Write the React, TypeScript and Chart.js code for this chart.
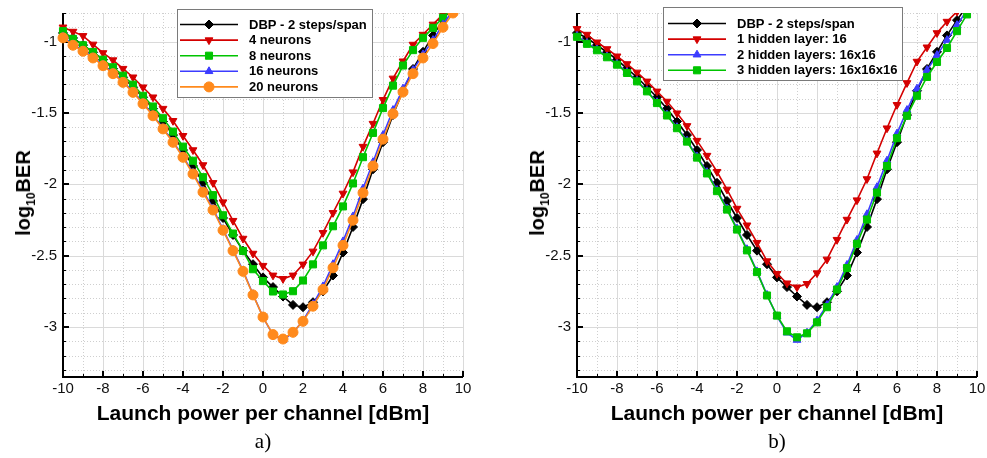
import React, { useEffect, useRef } from 'react';
import { Chart, registerables } from 'chart.js';
import { drawPoint } from 'chart.js/helpers';

Chart.register(...registerables);

// ---------------- data ----------------
const X = [
  -10, -9.5, -9, -8.5, -8, -7.5, -7, -6.5, -6, -5.5, -5, -4.5, -4, -3.5, -3, -2.5, -2, -1.5, -1, -0.5,
  0, 0.5, 1, 1.5, 2, 2.5, 3, 3.5, 4, 4.5, 5, 5.5, 6, 6.5, 7, 7.5, 8, 8.5, 9, 9.5,
];

const DBP = [
  -0.94, -0.975, -1.025, -1.075, -1.127, -1.19, -1.25, -1.32, -1.39, -1.47, -1.56, -1.655, -1.76, -1.872, -1.99, -2.117, -2.236, -2.355, -2.465, -2.56,
  -2.652, -2.72, -2.786, -2.845, -2.861, -2.826, -2.75, -2.639, -2.478, -2.299, -2.104, -1.895, -1.705, -1.515, -1.345, -1.192, -1.072, -0.957, -0.85, -0.75,
];

const NN4 = [
  -0.9, -0.93, -0.96, -1.02, -1.08, -1.13, -1.19, -1.25, -1.32, -1.39, -1.47, -1.555, -1.66, -1.76, -1.865, -1.99, -2.125, -2.255, -2.38, -2.485,
  -2.57, -2.638, -2.662, -2.638, -2.561, -2.47, -2.34, -2.2, -2.064, -1.915, -1.736, -1.575, -1.408, -1.258, -1.138, -1.021, -0.951, -0.88, -0.81, -0.74,
];

const NN8 = [
  -0.927, -0.981, -1.026, -1.073, -1.127, -1.18, -1.239, -1.302, -1.38, -1.455, -1.537, -1.631, -1.736, -1.835, -1.95, -2.076, -2.217, -2.345, -2.467, -2.595,
  -2.678, -2.751, -2.772, -2.749, -2.674, -2.561, -2.428, -2.294, -2.155, -1.994, -1.81, -1.64, -1.466, -1.309, -1.168, -1.06, -0.974, -0.904, -0.833, -0.76,
];

const NN16 = [
  -0.965, -1.02, -1.062, -1.11, -1.163, -1.22, -1.28, -1.35, -1.43, -1.515, -1.607, -1.7, -1.805, -1.92, -2.045, -2.17, -2.315, -2.46, -2.605, -2.77,
  -2.93, -3.055, -3.092, -3.04, -2.955, -2.84, -2.715, -2.56, -2.4, -2.225, -2.03, -1.845, -1.655, -1.48, -1.33, -1.2, -1.09, -0.99, -0.88, -0.78,
];

const NN20 = [
  -0.974, -1.026, -1.068, -1.115, -1.169, -1.225, -1.286, -1.356, -1.436, -1.52, -1.612, -1.706, -1.811, -1.928, -2.055, -2.18, -2.322, -2.465, -2.61, -2.775,
  -2.93, -3.053, -3.084, -3.037, -2.96, -2.854, -2.737, -2.585, -2.428, -2.252, -2.06, -1.872, -1.684, -1.506, -1.354, -1.225, -1.115, -1.014, -0.9, -0.8,
];

const HL1 = [
  -0.911, -0.951, -1.005, -1.052, -1.103, -1.157, -1.216, -1.279, -1.349, -1.42, -1.502, -1.591, -1.694, -1.799, -1.912, -2.036, -2.17, -2.287, -2.409, -2.538,
  -2.627, -2.693, -2.721, -2.697, -2.622, -2.526, -2.388, -2.247, -2.111, -1.963, -1.783, -1.607, -1.443, -1.29, -1.14, -1.04, -0.94, -0.86, -0.79, -0.72,
];

const HL2 = [
  -0.96, -1.01, -1.055, -1.105, -1.157, -1.215, -1.275, -1.345, -1.425, -1.512, -1.6, -1.695, -1.805, -1.915, -2.04, -2.17, -2.31, -2.455, -2.61, -2.775,
  -2.925, -3.04, -3.091, -3.04, -2.955, -2.845, -2.72, -2.565, -2.39, -2.21, -2.02, -1.835, -1.645, -1.48, -1.33, -1.2, -1.095, -0.99, -0.885, -0.78,
];

const HL3 = [
  -0.967, -1.016, -1.061, -1.11, -1.162, -1.22, -1.279, -1.349, -1.431, -1.518, -1.607, -1.701, -1.813, -1.924, -2.048, -2.177, -2.317, -2.463, -2.615, -2.779,
  -2.92, -3.03, -3.072, -3.044, -2.967, -2.861, -2.737, -2.587, -2.416, -2.247, -2.058, -1.872, -1.677, -1.52, -1.38, -1.248, -1.143, -1.045, -0.927, -0.81,
];

const X_TICKS = [-10, -8, -6, -4, -2, 0, 2, 4, 6, 8, 10];
const Y_TICKS = [-3, -2.5, -2, -1.5, -1];
const X_MIN = -10;
const X_MAX = 10;
const Y_MIN = -3.35;
const Y_MAX = -0.8;

const LEFT_LABELS = ['DBP - 2 steps/span', '4 neurons', '8 neurons', '16 neurons', '20 neurons'];
const RIGHT_LABELS = ['DBP - 2 steps/span', '1 hidden layer: 16', '2 hidden layers: 16x16', '3 hidden layers: 16x16x16'];

// ---------------- styles ----------------
const C_BLACK = '#000000';
const C_RED = '#d40000';
const C_GREEN = '#00c400';
const C_BLUE = '#3c3cff';
const C_ORANGE = '#ff8a1c';

const SANS = "'Liberation Sans', Arial, Helvetica, sans-serif";

type Series = {
  label: string;
  data: number[];
  color: string;
  style: string;
  radius: number;
  rotation: number;
};

const leftSeries: Series[] = [
  { label: LEFT_LABELS[0], data: DBP, color: C_BLACK, style: 'rectRot', radius: 4.5, rotation: 0 },
  { label: LEFT_LABELS[1], data: NN4, color: C_RED, style: 'triangle', radius: 4.5, rotation: 180 },
  { label: LEFT_LABELS[2], data: NN8, color: C_GREEN, style: 'rect', radius: 5, rotation: 0 },
  { label: LEFT_LABELS[3], data: NN16, color: C_BLUE, style: 'triangle', radius: 4.5, rotation: 0 },
  { label: LEFT_LABELS[4], data: NN20, color: C_ORANGE, style: 'circle', radius: 5, rotation: 0 },
];

const rightSeries: Series[] = [
  { label: RIGHT_LABELS[0], data: DBP, color: C_BLACK, style: 'rectRot', radius: 4.5, rotation: 0 },
  { label: RIGHT_LABELS[1], data: HL1, color: C_RED, style: 'triangle', radius: 4.5, rotation: 180 },
  { label: RIGHT_LABELS[2], data: HL2, color: C_BLUE, style: 'triangle', radius: 4.5, rotation: 0 },
  { label: RIGHT_LABELS[3], data: HL3, color: C_GREEN, style: 'rect', radius: 5, rotation: 0 },
];

type LegendBox = { x: number; y: number; w: number; h: number; lx1: number; lx2: number; tx: number; ry: number; dy: number };

const LEFT_LEGEND: LegendBox = { x: 177, y: 9, w: 195, h: 88, lx1: 180, lx2: 238, tx: 249, ry: 24.5, dy: 15.6 };
const RIGHT_LEGEND: LegendBox = { x: 149, y: 7, w: 239, h: 73, lx1: 154, lx2: 212, tx: 223, ry: 23.5, dy: 15.6 };

const framePlugin = {
  id: 'frame',
  beforeDatasetsDraw(chart: any) {
    const { ctx, chartArea: a, scales } = chart;
    const xs = scales.x;
    const ys = scales.y;
    const px = (v: number) => Math.round(xs.getPixelForValue(v)) + 0.5;
    const py = (v: number) => Math.round(ys.getPixelForValue(v)) + 0.5;
    const seg = (x1: number, y1: number, x2: number, y2: number) => {
      ctx.beginPath();
      ctx.moveTo(x1, y1);
      ctx.lineTo(x2, y2);
      ctx.stroke();
    };
    const xMinor: number[] = [];
    for (let v = -9; v <= 9; v += 2) xMinor.push(v);
    const yMinor: number[] = [];
    for (let k = -33; k <= -8; k++) if (k % 5 !== 0) yMinor.push(k / 10);

    ctx.save();
    // minor grid (dotted)
    ctx.lineWidth = 1;
    ctx.strokeStyle = '#cfcfcf';
    ctx.setLineDash([1, 2]);
    xMinor.forEach((v) => seg(px(v), a.top, px(v), a.bottom));
    yMinor.forEach((v) => seg(a.left, py(v), a.right, py(v)));
    // major grid
    ctx.setLineDash([]);
    ctx.strokeStyle = '#dadada';
    X_TICKS.filter((v) => v !== X_MIN).forEach((v) => seg(px(v), a.top, px(v), a.bottom));
    Y_TICKS.forEach((v) => seg(a.left, py(v), a.right, py(v)));
    // inner ticks
    ctx.strokeStyle = '#000';
    ctx.lineWidth = 1;
    xMinor.forEach((v) => seg(px(v), a.bottom, px(v), a.bottom - 3));
    yMinor.forEach((v) => seg(a.left, py(v), a.left + 3, py(v)));
    ctx.lineWidth = 2;
    X_TICKS.filter((v) => v !== X_MIN).forEach((v) => seg(Math.round(xs.getPixelForValue(v)), a.bottom, Math.round(xs.getPixelForValue(v)), a.bottom - 6));
    Y_TICKS.forEach((v) => seg(a.left, Math.round(ys.getPixelForValue(v)), a.left + 6, Math.round(ys.getPixelForValue(v))));
    // axis lines
    ctx.lineWidth = 2;
    seg(Math.round(a.left), a.top, Math.round(a.left), Math.round(a.bottom) + 1);
    seg(Math.round(a.left) - 1, Math.round(a.bottom), a.right, Math.round(a.bottom));
    ctx.restore();
  },
};

function makeLegendPlugin(series: Series[], box: LegendBox) {
  return {
    id: 'boxLegend',
    afterDraw(chart: any) {
      const { ctx } = chart;
      ctx.save();
      ctx.fillStyle = '#ffffff';
      ctx.fillRect(box.x, box.y, box.w, box.h);
      ctx.strokeStyle = '#7a7a7a';
      ctx.lineWidth = 1;
      ctx.strokeRect(box.x + 0.5, box.y + 0.5, box.w, box.h);
      series.forEach((s, i) => {
        const y = box.ry + i * box.dy;
        ctx.strokeStyle = s.color;
        ctx.fillStyle = s.color;
        ctx.lineWidth = 1.6;
        ctx.beginPath();
        ctx.moveTo(box.lx1, y);
        ctx.lineTo(box.lx2, y);
        ctx.stroke();
        ctx.lineWidth = 1;
        drawPoint(ctx, { pointStyle: s.style as any, radius: s.radius, rotation: s.rotation, borderWidth: 1 }, (box.lx1 + box.lx2) / 2, y);
        ctx.fillStyle = '#000';
        ctx.font = `bold 13px ${SANS}`;
        ctx.textBaseline = 'middle';
        ctx.textAlign = 'left';
        ctx.fillText(s.label, box.tx, y + 0.5);
      });
      ctx.restore();
    },
  };
}

function makeConfig(series: Series[], box: LegendBox): any {
  const n = series.length;
  return {
    type: 'line',
    data: {
      datasets: series.map((s, i) => ({
        label: s.label,
        data: X.map((x, j) => ({ x, y: s.data[j] })),
        borderColor: s.color,
        backgroundColor: s.color,
        pointBackgroundColor: s.color,
        pointBorderColor: s.color,
        pointStyle: s.style,
        pointRadius: s.radius,
        pointRotation: s.rotation,
        pointBorderWidth: 1,
        borderWidth: 1.6,
        tension: 0,
        clip: { left: 10, top: 0, right: 0, bottom: 0 },
        order: n - 1 - i,
      })),
    },
    options: {
      responsive: false,
      animation: false,
      devicePixelRatio: 1,
      events: [],
      layout: { padding: { left: 0, top: 13, right: 10, bottom: 56 } },
      plugins: { legend: { display: false }, tooltip: { enabled: false }, title: { display: false } },
      scales: {
        x: {
          type: 'linear',
          min: X_MIN,
          max: X_MAX,
          afterBuildTicks: (s: any) => {
            s.ticks = X_TICKS.map((v) => ({ value: v }));
          },
          afterFit: (s: any) => {
            s.height = 25;
            s.paddingLeft = 0;
            s.paddingRight = 0;
          },
          grid: { display: false, drawTicks: false },
          border: { display: false },
          ticks: {
            autoSkip: false,
            maxRotation: 0,
            minRotation: 0,
            padding: 3,
            color: '#111',
            font: { family: SANS, size: 15 },
            callback: (v: any) => String(v),
          },
        },
        y: {
          type: 'linear',
          min: Y_MIN,
          max: Y_MAX,
          afterBuildTicks: (s: any) => {
            s.ticks = Y_TICKS.map((v) => ({ value: v }));
          },
          afterFit: (s: any) => {
            s.width = 63;
            s.paddingTop = 0;
            s.paddingBottom = 0;
          },
          grid: { display: false, drawTicks: false },
          border: { display: false },
          ticks: {
            autoSkip: false,
            padding: 6,
            color: '#111',
            font: { family: SANS, size: 15 },
            callback: (v: any) => String(v),
          },
        },
      },
    },
    plugins: [framePlugin, makeLegendPlugin(series, box)],
  };
}

function Panel({ left, series, box, tag }: { left: number; series: Series[]; box: LegendBox; tag: string }) {
  const ref = useRef<HTMLCanvasElement | null>(null);
  useEffect(() => {
    if (!ref.current) return;
    const chart = new Chart(ref.current, makeConfig(series, box));
    return () => chart.destroy();
  }, []);
  return (
    <>
      <canvas
        ref={ref}
        width={473}
        height={458}
        style={{ position: 'absolute', left, top: 0, width: 473, height: 458, display: 'block' }}
      />
      <div
        style={{
          position: 'absolute',
          left: left + 23,
          top: 193,
          transform: 'translate(-50%, -50%) rotate(-90deg)',
          fontFamily: SANS,
          fontWeight: 'bold',
          fontSize: 20,
          lineHeight: '24px',
          whiteSpace: 'nowrap',
          color: '#000',
        }}
      >
        log<sub style={{ fontSize: 12, verticalAlign: '-5px', lineHeight: 0 }}>10</sub>BER
      </div>
      <div
        style={{
          position: 'absolute',
          left: left + 63,
          top: 402,
          width: 400,
          textAlign: 'center',
          fontFamily: SANS,
          fontWeight: 'bold',
          fontSize: 21,
          lineHeight: '21px',
          whiteSpace: 'nowrap',
          color: '#000',
        }}
      >
        Launch power per channel [dBm]
      </div>
      <div
        style={{
          position: 'absolute',
          left: left + 223,
          top: 431,
          width: 80,
          textAlign: 'center',
          fontFamily: "'Liberation Serif', 'Times New Roman', serif",
          fontSize: 21,
          lineHeight: '21px',
          color: '#000',
        }}
      >
        {tag}
      </div>
    </>
  );
}

export default function App() {
  useEffect(() => {
    document.body.style.margin = '0';
  }, []);
  return (
    <div style={{ position: 'relative', width: 987, height: 458, overflow: 'hidden', background: '#fff' }}>
      <Panel left={0} series={leftSeries} box={LEFT_LEGEND} tag="a)" />
      <Panel left={514} series={rightSeries} box={RIGHT_LEGEND} tag="b)" />
    </div>
  );
}
